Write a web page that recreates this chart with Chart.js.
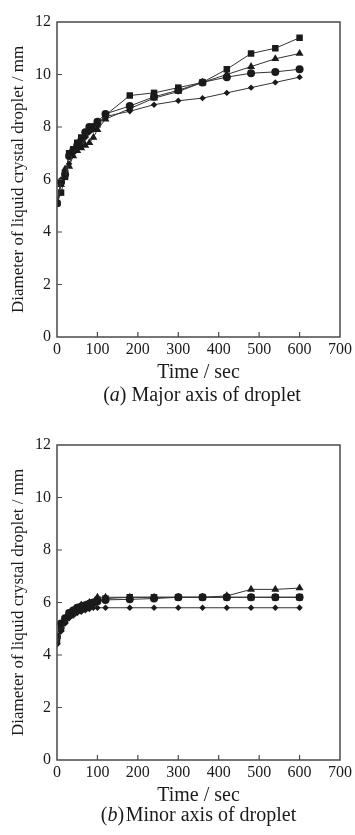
<!DOCTYPE html>
<html>
<head>
<meta charset="utf-8">
<script src="https://cdn.jsdelivr.net/npm/chart.js@4"></script>
<style>
  html, body { margin:0; padding:0; background:#fff; }
  body { width:355px; height:835px; position:relative; overflow:hidden; font-family:"Liberation Serif", "DejaVu Serif", serif; color:#1a1a1a; }
  canvas { position:absolute; left:0; }
  .cap { position:absolute; font-size:20px; line-height:24px; text-align:center; white-space:nowrap; }
</style>
</head>
<body>
<canvas id="ca" width="355" height="385" style="top:0px"></canvas>
<div class="cap" style="left:57px;width:290px;top:382px">(<i>a</i>) Major axis of droplet</div>
<canvas id="cb" width="355" height="385" style="top:423px"></canvas>
<div class="cap" style="left:57px;width:283px;top:802px">(<i>b</i>)&#8202;Minor axis of droplet</div>
<script>
const times = [0, 10, 20, 30, 40, 50, 60, 70, 80, 90, 100, 120, 180, 240, 300, 360, 420, 480, 540, 600];
const xTicks = [0, 100, 200, 300, 400, 500, 600, 700];
const yTicks = [0, 2, 4, 6, 8, 10, 12];

// (a) Major axis
const majorSquare   = [5.1, 5.5, 6.1, 7.0, 7.15, 7.4, 7.6, 7.7, 7.9, 8.0, 8.1, 8.45, 9.2, 9.3, 9.5, 9.7, 10.2, 10.8, 11.0, 11.4];
const majorTriangle = [5.1, 5.8, 6.4, 6.5, 6.9, 7.1, 7.2, 7.3, 7.4, 7.6, 7.9, 8.3, 8.7, 9.1, 9.35, 9.7, 10.0, 10.3, 10.6, 10.8];
const majorCircle   = [5.1, 5.9, 6.2, 6.9, 7.1, 7.3, 7.5, 7.8, 8.0, 8.0, 8.2, 8.5, 8.8, 9.15, 9.4, 9.7, 9.9, 10.05, 10.1, 10.2];
const majorDiamond  = [5.1, 6.0, 6.1, 6.6, 7.0, 7.2, 7.3, 7.6, 7.8, 7.9, 8.1, 8.4, 8.6, 8.85, 9.0, 9.1, 9.3, 9.5, 9.7, 9.9];

// (b) Minor axis
const minorSquare   = [4.6, 5.0, 5.3, 5.5, 5.6, 5.7, 5.8, 5.85, 5.9, 6.0, 6.1, 6.15, 6.2, 6.2, 6.2, 6.2, 6.2, 6.2, 6.2, 6.2];
const minorTriangle = [4.5, 5.1, 5.4, 5.6, 5.7, 5.8, 5.9, 5.9, 6.0, 6.0, 6.2, 6.2, 6.2, 6.2, 6.2, 6.2, 6.25, 6.5, 6.5, 6.55];
const minorCircle   = [4.7, 5.2, 5.4, 5.6, 5.7, 5.8, 5.85, 5.9, 5.95, 6.0, 6.05, 6.1, 6.12, 6.15, 6.2, 6.2, 6.2, 6.2, 6.2, 6.2];
const minorDiamond  = [4.4, 4.9, 5.2, 5.4, 5.5, 5.6, 5.65, 5.7, 5.75, 5.8, 5.8, 5.8, 5.8, 5.8, 5.8, 5.8, 5.8, 5.8, 5.8, 5.8];

const xTitle = 'Time / sec';
const yTitle = 'Diameter of liquid crystal droplet / mm';

const FONT = '"Liberation Serif", "DejaVu Serif", serif';
const INK = '#1a1a1a';
const AXIS = '#4a4a4a';

function pts(vals) { return times.map((t, i) => ({x: t, y: vals[i]})); }

function ds(vals, style, r) {
  return {
    data: pts(vals),
    borderColor: '#333',
    borderWidth: 1,
    backgroundColor: INK,
    pointBackgroundColor: INK,
    pointBorderColor: INK,
    pointBorderWidth: 0,
    pointStyle: style,
    pointRadius: r,
    tension: 0,
    fill: false
  };
}

const frame = {
  id: 'frame',
  afterDraw(chart) {
    const {ctx, chartArea: a, scales} = chart;
    ctx.save();
    ctx.strokeStyle = AXIS;
    ctx.lineWidth = 1.5;
    ctx.strokeRect(a.left, a.top, a.right - a.left, a.bottom - a.top);
    ctx.lineWidth = 1.2;
    ctx.beginPath();
    scales.x.ticks.forEach(t => {
      if (t.value <= 0 || t.value >= 700) return;
      const px = scales.x.getPixelForValue(t.value);
      ctx.moveTo(px, a.bottom); ctx.lineTo(px, a.bottom - 5);
    });
    scales.y.ticks.forEach(t => {
      if (t.value <= 0 || t.value >= 12) return;
      const py = scales.y.getPixelForValue(t.value);
      ctx.moveTo(a.left, py); ctx.lineTo(a.left + 5, py);
    });
    ctx.stroke();
    ctx.restore();
  }
};

function make(id, sq, tri, cir, dia) {
  return new Chart(document.getElementById(id), {
    type: 'line',
    data: {
      datasets: [
        ds(dia, 'rectRot', 3.2),
        ds(cir, 'circle', 4),
        ds(tri, 'triangle', 4.6),
        ds(sq, 'rect', 4.6)
      ]
    },
    options: {
      responsive: false,
      animation: false,
      devicePixelRatio: 1,
      layout: { padding: { top: 22, right: 15, bottom: 0, left: 0 } },
      plugins: { legend: { display: false }, tooltip: { enabled: false }, title: { display: false } },
      scales: {
        x: {
          type: 'linear',
          min: 0, max: 700,
          afterBuildTicks: s => { s.ticks = xTicks.map(v => ({value: v})); },
          afterFit: s => { s.height = 48; },
          grid: { display: false, drawTicks: false },
          border: { display: false },
          ticks: { color: INK, font: { family: FONT, size: 16 }, padding: 3, maxRotation: 0, autoSkip: false },
          title: { display: true, text: xTitle, color: INK, font: { family: FONT, size: 20 }, padding: { top: 0, bottom: 0 } }
        },
        y: {
          type: 'linear',
          min: 0, max: 12,
          afterBuildTicks: s => { s.ticks = yTicks.map(v => ({value: v})); },
          afterFit: s => { s.width = 57; },
          grid: { display: false, drawTicks: false },
          border: { display: false },
          ticks: { color: INK, font: { family: FONT, size: 16 }, padding: 6, autoSkip: false },
          title: { display: true, text: yTitle, color: INK, font: { family: FONT, size: 17 }, padding: { top: 8, bottom: 0 } }
        }
      }
    },
    plugins: [frame]
  });
}

make('ca', majorSquare, majorTriangle, majorCircle, majorDiamond);
make('cb', minorSquare, minorTriangle, minorCircle, minorDiamond);
</script>
</body>
</html>
